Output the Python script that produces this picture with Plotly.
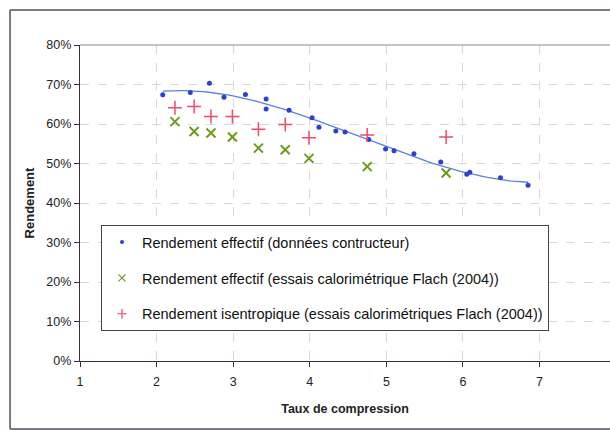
import numpy as np
import plotly.graph_objects as go

# Rendement effectif (données constructeur)
taux_constr = [2.08, 2.44, 2.69, 2.88, 3.16, 3.43, 3.43, 3.73, 4.03, 4.12, 4.34, 4.46,
               4.77, 4.99, 5.10, 5.36, 5.71, 6.05, 6.09, 6.49, 6.85]
rend_constr = [67.4, 68.0, 70.3, 66.8, 67.5, 66.3, 63.8, 63.5, 61.6, 59.2, 58.2, 58.0,
               56.1, 53.7, 53.2, 52.5, 50.4, 47.3, 47.8, 46.4, 44.5]

# Essais calorimétriques Flach (2004)
taux_flach = [2.24, 2.49, 2.71, 2.99, 3.33, 3.68, 3.99, 4.75, 5.78]
rend_eff_flach = [60.6, 58.1, 57.7, 56.7, 53.9, 53.5, 51.3, 49.2, 47.6]
rend_isen_flach = [64.1, 64.4, 61.9, 61.9, 58.7, 59.9, 56.5, 57.2, 56.7]

noms = ["Rendement effectif (données contructeur)",
        "Rendement effectif (essais calorimétrique Flach (2004))",
        "Rendement isentropique (essais calorimétriques Flach (2004))"]

# courbe de tendance polynomiale (comme dans Excel)
coef = np.polyfit(taux_constr, rend_constr, 3)
xt = np.linspace(min(taux_constr), max(taux_constr), 100)
yt = np.polyval(coef, xt)

font = "Arial, Liberation Sans, sans-serif"
bleu, vert, rouge = "#2f3fcf", "#6e9a1c", "#f04a6a"

fig = go.Figure()
fig.add_trace(go.Scatter(x=xt, y=yt, mode="lines", showlegend=False,
                         line=dict(color="#5b7fe0", width=1.3), hoverinfo="skip"))
fig.add_trace(go.Scatter(x=taux_constr, y=rend_constr, mode="markers", name=noms[0],
                         showlegend=False, marker=dict(color=bleu, size=5, symbol="circle")))
fig.add_trace(go.Scatter(x=taux_flach, y=rend_eff_flach, mode="markers", name=noms[1],
                         showlegend=False,
                         marker=dict(symbol="x-thin-open", size=9, color=vert,
                                     line=dict(color=vert, width=2))))
fig.add_trace(go.Scatter(x=taux_flach, y=rend_isen_flach, mode="markers", name=noms[2],
                         showlegend=False,
                         marker=dict(symbol="cross-thin-open", size=10, color=rouge,
                                     line=dict(color=rouge, width=1.5))))

# entrées de légende (marqueurs plus petits, comme dans l'original)
leg_markers = [dict(color=bleu, size=4, symbol="circle"),
               dict(symbol="x-thin-open", size=7, color=vert, line=dict(color=vert, width=1.3)),
               dict(symbol="cross-thin-open", size=7, color=rouge, line=dict(color=rouge, width=1.2))]
for i, (nom, mk) in enumerate(zip(noms, leg_markers)):
    fig.add_trace(go.Scatter(x=[None], y=[None], mode="markers", name=nom,
                             legendgroup=str(i), marker=mk))

# cadre extérieur (coupé à droite comme dans l'original)
cadre = dict(color="#5a4a62", width=1.5)
fig.update_layout(
    width=610, height=431,
    margin=dict(l=80, r=0, t=45, b=70),
    paper_bgcolor="white", plot_bgcolor="white",
    font=dict(family=font, size=12, color="#222"),
    legend=dict(x=(101 - 80) / 530, y=0.43, xanchor="left", yanchor="top",
                bgcolor="white", bordercolor="#444", borderwidth=1,
                font=dict(size=14.5, color="#111"), tracegroupgap=14,
                itemsizing="trace", itemwidth=30),
    shapes=[dict(type="line", xref="paper", yref="paper", x0=-0.132, x1=-0.132,
                 y0=-0.215, y1=1.111, line=cadre),
            dict(type="line", xref="paper", yref="paper", x0=-0.132, x1=1.0,
                 y0=1.111, y1=1.111, line=cadre),
            dict(type="line", xref="paper", yref="paper", x0=-0.132, x1=1.0,
                 y0=-0.215, y1=-0.215, line=cadre),
            dict(type="line", xref="paper", yref="paper", x0=0, x1=1, y0=1, y1=1,
                 line=dict(color="#8a8a8a", width=1.2))],
)
fig.update_xaxes(range=[1, 7.92], dtick=1, tick0=1, showline=True, linecolor="#3a2a44",
                 linewidth=1.2, ticks="outside", ticklen=5, tickcolor="#3a2a44",
                 showgrid=True, gridcolor="#d8d8d8", griddash="dash", zeroline=False,
                 automargin=False, ticklabelstandoff=4, tickfont=dict(size=12.5),
                 title=dict(text="<b>Taux de compression</b>", font=dict(size=12.5), standoff=16))
fig.update_yaxes(range=[0, 80], dtick=10, ticksuffix="%", showline=True, linecolor="#3a2a44",
                 linewidth=1.2, ticks="outside", ticklen=5, tickcolor="#3a2a44",
                 showgrid=True, gridcolor="#d8d8d8", griddash="dash", zeroline=False,
                 automargin=False, tickfont=dict(size=12.5),
                 title=dict(text="<b>Rendement</b>", font=dict(size=13), standoff=8))

fig.write_html("out.html", config={"displayModeBar": False},
               post_script="document.body.style.margin='0';document.body.style.overflow='hidden';")
